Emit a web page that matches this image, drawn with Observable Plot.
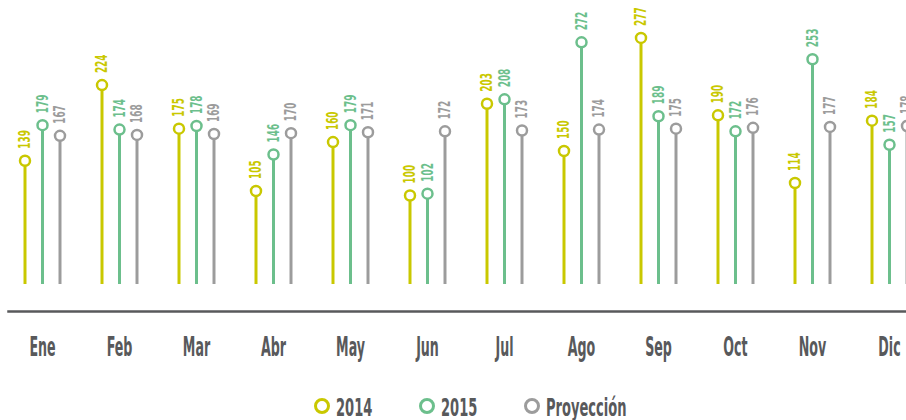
<!DOCTYPE html>
<html><head><meta charset="utf-8">
<script src="https://cdn.jsdelivr.net/npm/d3@7"></script>
<script src="https://cdn.jsdelivr.net/npm/@observablehq/plot@0.6"></script>
<style>
body{margin:0;background:#fff;overflow:hidden}
#chart,#legend{width:906px;display:block}
svg{display:block}
</style>
</head><body><div id="chart"></div><div id="legend"></div>
<script>
const months = ["Ene","Feb","Mar","Abr","May","Jun","Jul","Ago","Sep","Oct","Nov","Dic"];
const series = ["2014","2015","Proyección"];
const v2014 = [139,224,175,105,160,100,203,150,277,190,114,184];
const v2015 = [179,174,178,146,179,102,208,272,189,172,253,157];
const vProy = [167,168,169,170,171,172,173,174,175,176,177,178];

const colors = ["#c9c800","#6cbf8c","#9c9c9c"];
const textGray = "#58595b";
const offsets = [-17.5, 0, 17.5];
const valuesBySeries = [v2014, v2015, vProy];
const FONT = "'DejaVu Sans Condensed', 'DejaVu Sans', sans-serif";

const marks = [];
series.forEach((s, i) => {
  const data = months.map((m, j) => ({month: m, value: valuesBySeries[i][j], series: s}));
  marks.push(Plot.ruleX(data, {x: "month", y1: 0, y2: "value", dx: offsets[i], stroke: colors[i], strokeWidth: 3}));
  marks.push(Plot.dot(data, {x: "month", y: "value", dx: offsets[i], r: 5, fill: "white", stroke: colors[i], strokeWidth: 2.5}));
  marks.push(Plot.text(data, {x: "month", y: "value", text: d => String(d.value), dx: offsets[i], dy: -12,
    rotate: -90, textAnchor: "start", lineAnchor: "middle", fill: colors[i], fontSize: 16, fontWeight: "bold"}));
});
marks.push(Plot.frame({anchor: "bottom", stroke: textGray, strokeWidth: 2.5}));
marks.push(Plot.axisX({tickSize: 0, tickPadding: 25, fontSize: 27, fontWeight: "bold", color: textGray, label: null}));

const svg = Plot.plot({
  width: 906, height: 375,
  marginLeft: 8, marginRight: 0, marginTop: 0, marginBottom: 64,
  style: {fontFamily: FONT, background: "white", overflow: "hidden"},
  x: {type: "point", domain: months, range: [41, 890], padding: 0, label: null},
  y: {domain: [0, 319], range: [284, 0], axis: null},
  marks
});
document.getElementById("chart").appendChild(svg);

function squeeze(root, selector, f) {
  root.querySelectorAll(selector).forEach(t => {
    const L = t.getComputedTextLength();
    if (L > 0) { t.setAttribute("textLength", (L * f).toFixed(1)); t.setAttribute("lengthAdjust", "spacingAndGlyphs"); }
  });
}
svg.querySelectorAll("text").forEach(t => {
  const inAxis = t.closest('g[aria-label*="axis"]');
  const L = t.getComputedTextLength();
  const f = inAxis ? 0.52 : 0.62;
  if (L > 0) { t.setAttribute("textLength", (L * f).toFixed(1)); t.setAttribute("lengthAdjust", "spacingAndGlyphs"); }
});

// legend
const leg = d3.select("#legend").append("svg").attr("width", 906).attr("height", 45)
  .style("font-family", FONT);
const item = leg.selectAll("g").data(series).join("g")
  .attr("transform", (d, i) => `translate(${322 + i * 105},31)`);
item.append("circle").attr("r", 6.5).attr("fill", "white").attr("stroke", (d, i) => colors[i]).attr("stroke-width", 3);
item.append("text").attr("x", 14).attr("y", 10).text(d => d)
  .attr("fill", textGray).attr("font-size", 25).attr("font-weight", "bold");
squeeze(leg.node(), "text", 0.58);
</script>
</body></html>
